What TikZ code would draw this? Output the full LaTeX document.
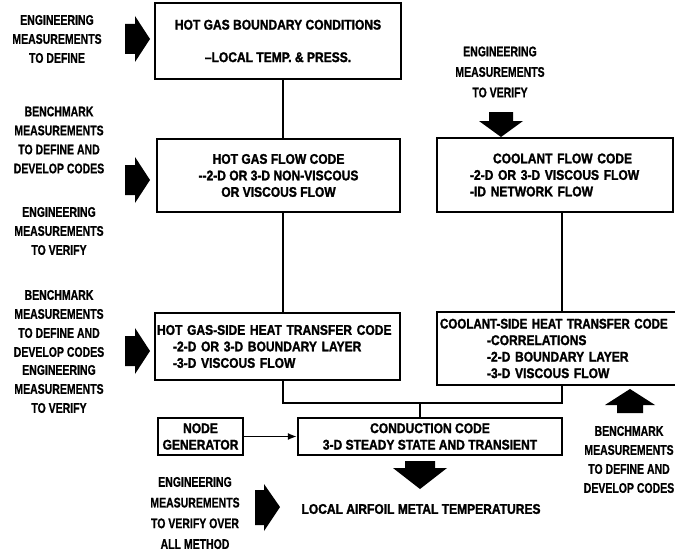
\documentclass[tikz,border=0pt]{standalone}
\usepackage{fontspec}
\usepackage{graphicx}
\setmainfont{Liberation Sans}
\newfontfamily\lblfont{Liberation Sans Bold}[FakeStretch=0.75,FakeBold=0.8]
\newfontfamily\boxfont{Liberation Sans Bold}[FakeStretch=0.86,FakeBold=1.6]
\usetikzlibrary{arrows.meta}
\tikzset{
  lbl/.style={font=\lblfont\fontsize{14}{19}\selectfont, align=center, inner sep=0pt},
  codebox/.style={draw, line width=2.4pt, rectangle, inner sep=0pt,
    font=\boxfont\fontsize{14}{16.5}\selectfont, align=center},
  plaintext/.style={font=\boxfont\fontsize{14}{16.5}\selectfont, inner sep=0pt},
  link/.style={line width=1.4pt},
  blockarrow/.style={fill=black}
}
\begin{document}
\begin{tikzpicture}[x=1pt,y=-1pt]
\useasboundingbox (0,0) rectangle (675,551);
\clip (0,0) rectangle (675,551);
% boxes
\node[codebox, minimum width=246pt, minimum height=76pt] (b1) at (278,41)
  {HOT GAS BOUNDARY CONDITIONS\\[16pt]–LOCAL TEMP. \& PRESS.};
\node[codebox, minimum width=243pt, minimum height=73pt] (b2) at (278.5,175.5)
  {HOT GAS FLOW CODE\\--2-D OR 3-D NON-VISCOUS\\OR VISCOUS FLOW};
\node[codebox, minimum width=245pt, minimum height=67pt, text width=241pt, align=left] (b3) at (277.5,346.5)
  {HOT GAS-SIDE HEAT TRANSFER CODE\\\hspace*{16pt}-2-D OR 3-D BOUNDARY LAYER\\\hspace*{16pt}-3-D VISCOUS FLOW};
\node[codebox, minimum width=236pt, minimum height=74pt, text width=170pt, align=left] (b4) at (555,175)
  {\hspace*{23pt}COOLANT FLOW CODE\\-2-D OR 3-D VISCOUS FLOW\\-ID NETWORK FLOW};
\node[codebox, minimum width=263pt, minimum height=73pt, text width=257pt, align=left] (b5) at (568.5,348.5)
  {\scalebox{0.96}[1]{COOLANT-SIDE HEAT TRANSFER CODE}\\\hspace*{47pt}-CORRELATIONS\\\hspace*{47pt}-2-D BOUNDARY LAYER\\\hspace*{47pt}-3-D VISCOUS FLOW};
\node[codebox, minimum width=85pt, minimum height=37pt] (ng) at (200.5,436.5) {NODE\\GENERATOR};
\node[codebox, minimum width=264pt, minimum height=37pt] (cc) at (430,436.5)
  {CONDUCTION CODE\\3-D STEADY STATE AND TRANSIENT};
\node[plaintext] (out) at (421,509) {LOCAL AIRFOIL METAL TEMPERATURES};
% connectors
\coordinate (xl) at (283,0);
\coordinate (xr) at (562,0);
\coordinate (jn) at (420,403);
\draw[link] (b1.south -| xl) -- (b2.north -| xl);
\draw[link] (b2.south -| xl) -- (b3.north -| xl);
\draw[link] (b4.south -| xr) -- (b5.north -| xr);
\draw[link] (b3.south -| xl) |- (jn) -| (b5.south -| xr);
\draw[link] (jn) -- (cc.north -| jn);
\draw[link, -{Latex[length=9pt,width=7pt]}] (ng.east) -- (cc.west);
% labels
\node[lbl] (l1) at (57,39) {ENGINEERING\\MEASUREMENTS\\TO DEFINE};
\node[lbl] (l2) at (59,140) {BENCHMARK\\MEASUREMENTS\\TO DEFINE AND\\DEVELOP CODES};
\node[lbl] (l3) at (59,231) {ENGINEERING\\MEASUREMENTS\\TO VERIFY};
\node[lbl] (l4) at (59,323.5) {BENCHMARK\\MEASUREMENTS\\TO DEFINE AND\\DEVELOP CODES};
\node[lbl] (l5) at (59,389) {ENGINEERING\\MEASUREMENTS\\TO VERIFY};
\node[lbl, font=\lblfont\fontsize{14}{20.5}\selectfont] (l6) at (500,72) {ENGINEERING\\MEASUREMENTS\\TO VERIFY};
\node[lbl, font=\lblfont\fontsize{14}{20.7}\selectfont] (l7) at (195,513) {ENGINEERING\\MEASUREMENTS\\TO VERIFY OVER\\ALL METHOD};
\node[lbl] (l8) at (629,459.5) {BENCHMARK\\MEASUREMENTS\\TO DEFINE AND\\DEVELOP CODES};
% block arrows
\fill[blockarrow] (125,24) -- (135,24) -- (135,16) -- (150,39) -- (135,62) -- (135,54) -- (125,54) -- cycle;
\fill[blockarrow] (125,165) -- (135,165) -- (135,157) -- (150,180) -- (135,203) -- (135,195) -- (125,195) -- cycle;
\fill[blockarrow] (125,336) -- (135,336) -- (135,328) -- (150,351) -- (135,374) -- (135,366) -- (125,366) -- cycle;
\fill[blockarrow] (489,112) -- (513,112) -- (513,121) -- (523,121) -- (501,137) -- (479,121) -- (489,121) -- cycle;
\fill[blockarrow] (405,461) -- (435,461) -- (435,468) -- (447,468) -- (420,489) -- (393,468) -- (405,468) -- cycle;
\fill[blockarrow] (617,413) -- (643,413) -- (643,405) -- (655,405) -- (630,389) -- (605,405) -- (617,405) -- cycle;
\fill[blockarrow] (255,490) -- (264,490) -- (264,484) -- (280,507) -- (264,531) -- (264,525) -- (255,525) -- cycle;
\end{tikzpicture}
\end{document}
